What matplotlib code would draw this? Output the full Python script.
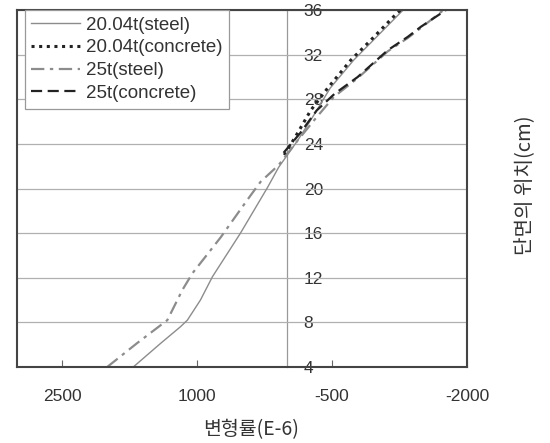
import matplotlib
matplotlib.use("Agg")
import matplotlib.pyplot as plt

plt.rcParams['font.family'] = ['Liberation Sans', 'Noto Sans CJK KR', 'DejaVu Sans']

# 변형률(E-6) vs 단면의 위치(cm), 값은 그림에서 읽음
steel_20_x = [1708, 1407, 1185, 1107, 962, 828, 517, 216, 93, -118, -300, -480, -740, -960, -1290]
steel_20_y = [4, 6.1, 7.6, 8.2, 10, 12.1, 16, 20.1, 21.9, 24.3, 26.6, 29, 31.5, 33.3, 36]

conc_20_x = [30, -120, -263, -452, -708, -931, -1232, -1265]
conc_20_y = [23, 25, 27, 29, 31.5, 33.3, 35.8, 36]

steel_25_x = [1998, 1664, 1330, 1163, 1051, 739, 439, 294, 93, -118, -330, -519, -786, -1120, -1343, -1488, -1740]
steel_25_y = [4, 6.15, 8.2, 10.9, 12.4, 15.6, 19, 20.6, 22.1, 24.3, 26.4, 28.2, 29.9, 32.3, 33.5, 34.4, 36]

conc_25_x = [38, -150, -330, -530, -786, -1120, -1343, -1488, -1766]
conc_25_y = [23.2, 25, 27, 28.5, 30, 32.4, 33.6, 34.5, 36]

x_ticks = [2500, 1000, -500, -2000]
y_ticks = list(range(4, 37, 4))

fig = plt.figure(figsize=(5.5, 4.43), dpi=100)
ax = fig.add_axes([0.031, 0.1716, 0.818, 0.8057])

ax.plot(steel_20_x, steel_20_y, color='#8c8c8c', lw=1.0, label='20.04t(steel)')
ax.plot(conc_20_x, conc_20_y, color='#222222', lw=2.2, ls=(0, (1, 1.5)), label='20.04t(concrete)')
ax.plot(steel_25_x, steel_25_y, color='#8c8c8c', lw=1.6, ls=(0, (6, 2.5, 1.5, 2.5)), label='25t(steel)')
ax.plot(conc_25_x, conc_25_y, color='#222222', lw=1.6, ls=(0, (5, 2.5)), label='25t(concrete)')

ax.set_xlim(3000, -2000)
ax.set_ylim(4, 36)
ax.set_xticks(x_ticks)
ax.set_xticklabels([str(v) for v in x_ticks])
ax.tick_params(axis='x', direction='in', length=5, width=0.8, color='#666666',
               pad=16, labelsize=12.5, labelcolor='#333333')
ax.set_yticks(y_ticks)
ax.tick_params(axis='y', left=False, labelleft=False)
ax.grid(axis='y', color='#b0b0b0', lw=0.9)
ax.set_axisbelow(True)
for s in ax.spines.values():
    s.set_color('#444444')
    s.set_linewidth(1.5)

# y축은 x=0 위치에 있음, 눈금 글자는 오른쪽
sec = ax.secondary_yaxis(0, transform=ax.transData)
sec.set_alignment('right')
sec.set_yticks(y_ticks)
sec.tick_params(axis='y', length=0, pad=12, labelsize=12.5, labelcolor='#333333')
for s in sec.spines.values():
    s.set_color('#999999')
    s.set_linewidth(0.9)

ax.set_xlabel('변형률(E-6)', family=['Noto Sans CJK KR', 'DejaVu Sans'], fontsize=14,
              color='#333333')
ax.xaxis.set_label_coords(0.52, -0.145)
fig.text(0.953, 0.582, '단면의 위치(cm)', rotation=90, ha='center', va='center',
         family=['Noto Sans CJK KR', 'DejaVu Sans'], fontsize=14.5, color='#333333')

leg = ax.legend(loc='upper left', bbox_to_anchor=(0.017, 1.0), borderaxespad=0,
                fancybox=False, framealpha=1, edgecolor='#999999', fontsize=13.5,
                handlelength=2.6, handletextpad=0.3, labelspacing=0.3,
                borderpad=0.35)
leg.get_frame().set_linewidth(0.9)
for t in leg.get_texts():
    t.set_color('#333333')

fig.savefig('out.png', dpi=100)
